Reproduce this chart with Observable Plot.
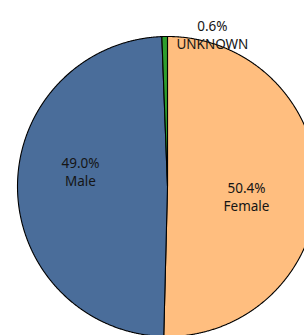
<!DOCTYPE html>
<html><head><meta charset="utf-8">
<script src="https://cdn.jsdelivr.net/npm/d3@7"></script>
<script src="https://cdn.jsdelivr.net/npm/@observablehq/plot@0.6"></script>
<style>html,body{margin:0;padding:0;background:#fff;overflow:hidden}</style>
</head><body><div id="chart"></div>
<script>
const categories = ["Female", "Male", "UNKNOWN"];
const values = [50.4, 49.0, 0.6];
const colors = ["#ffbe7f", "#4a6d9a", "#2e9e2e"];

const W = 304, H = 335, cx = 167, cy = 186, R = 150;

const arcs = d3.pie().sort(null).value(d => d.value)(
  categories.map((c, i) => ({category: c, value: values[i]}))
);

// sample each slice's outline in unit-circle coordinates
const poly = [];
arcs.forEach(a => {
  const c = a.data.category;
  const n = Math.max(2, Math.ceil((a.endAngle - a.startAngle) / 0.005));
  poly.push({category: c, x: 0, y: 0});
  for (let k = 0; k <= n; k++) {
    const t = a.startAngle + (a.endAngle - a.startAngle) * k / n;
    poly.push({category: c, x: Math.sin(t), y: Math.cos(t)});
  }
});

const labels = arcs.map(a => {
  const mid = (a.startAngle + a.endAngle) / 2;
  const r = a.data.category === "UNKNOWN" ? 1.1 : 0.55;
  return {
    category: a.data.category,
    x: r * Math.sin(mid),
    y: r * Math.cos(mid),
    text: `${a.data.value.toFixed(1)}%\n${a.data.category}`
  };
});

const textOpts = {x: "x", y: "y", text: "text", fontSize: 13.5, lineHeight: 1.35, fill: "#151515", lineAnchor: "middle"};

const chart = Plot.plot({
  width: W, height: H,
  margin: 0,
  style: {fontFamily: "'Noto Sans', sans-serif", background: "#fff"},
  x: {domain: [-cx / R, (W - cx) / R], axis: null},
  y: {domain: [-(H - cy) / R, cy / R], axis: null},
  color: {domain: categories, range: colors},
  marks: [
    Plot.line(poly, {x: "x", y: "y", z: "category", fill: "category", stroke: "#000", strokeWidth: 1.1, curve: "linear-closed", clip: true}),
    Plot.text(labels.filter(d => d.category === "Female"), {...textOpts, dx: -3.5, dy: 9}),
    Plot.text(labels.filter(d => d.category === "Male"), {...textOpts, dx: -4.5, dy: -16}),
    Plot.text(labels.filter(d => d.category === "UNKNOWN"), {...textOpts, dx: 48, dy: 13})
  ]
});
document.getElementById("chart").append(chart);
</script>
</body></html>
